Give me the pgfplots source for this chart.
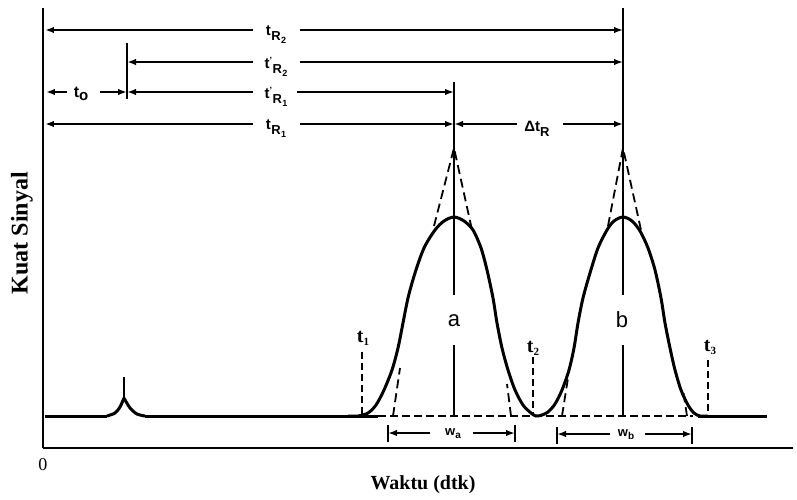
\documentclass[border=0pt]{standalone}
\usepackage{fontspec}
\setmainfont{Liberation Serif}
\setsansfont{Liberation Sans}
\usepackage{pgfplots}
\pgfplotsset{compat=1.18}
\usetikzlibrary{arrows.meta}

% label helpers: t with subscripts, set in bold sans as in the scan
\newcommand{\pr}{\raisebox{5pt}{\fontsize{9}{9}\selectfont '}}
\newcommand{\tR}[2]{{\sffamily\bfseries\fontsize{15}{15}\selectfont t#1\kern0.5pt\raisebox{-5pt}{\fontsize{13}{13}\selectfont R\kern0.3pt\raisebox{-3pt}{\fontsize{9}{9}\selectfont #2}}}}
\newcommand{\tn}[1]{{\rmfamily\bfseries\fontsize{20}{20}\selectfont t\raisebox{-3pt}{\fontsize{11}{11}\selectfont #1}}}
\newcommand{\w}[1]{{\sffamily\bfseries\fontsize{13}{13}\selectfont w\raisebox{-3pt}{\fontsize{10}{10}\selectfont #1}}}

\begin{document}
\begin{tikzpicture}
\begin{axis}[
  scale only axis, width=750pt, height=440pt,
  xmin=0, xmax=750, ymin=0, ymax=440,
  enlargelimits=false, clip=false,
  axis lines*=left, axis line style={line width=2.3pt},
  xtick={0}, ytick=\empty, major tick length=0pt,
  /pgf/number format/assume math mode=true,
  xticklabel style={font=\rmfamily\fontsize{18}{18}\selectfont, yshift=-7pt},
  xlabel={Waktu (dtk)}, ylabel={Kuat Sinyal},
  xlabel style={at={(axis description cs:0.5067,-0.0841)}, anchor=center,
    font=\rmfamily\bfseries\fontsize{20}{20}\selectfont},
  ylabel style={at={(axis description cs:-0.028,0.4886)}, anchor=center, rotate=0,
    font=\rmfamily\bfseries\fontsize{24}{24}\selectfont},
  curve/.style={black, line width=3pt, no markers, smooth, tension=0.5},
  thin line/.style={black, line width=1.8pt, no markers},
  arr/.style={black, line width=1.8pt, no markers, -{Latex[length=9pt,width=6.5pt]}},
  dash/.style={black, line width=1.8pt, no markers, dash pattern=on 7pt off 4pt},
  tang/.style={black, line width=1.8pt, no markers, dash pattern=on 9pt off 5pt},
]

% baseline and the small unretained peak
\addplot[curve, sharp plot] coordinates {(2,32) (64,32)};
\addplot[curve] coordinates {(64,32) (72,35) (77,41) (81,50)};
\addplot[curve] coordinates {(81,50) (87,40) (94,34) (102,32)};
\addplot[thin line] coordinates {(81,50) (81,71)};
\addplot[curve, sharp plot] coordinates {(102,32) (335,32)};
\addplot[dash, dash pattern=on 8pt off 4pt] coordinates {(335,32) (650,32)};
\addplot[curve, sharp plot] coordinates {(655,32) (724,32)};

% peaks a and b
\addplot[curve] coordinates {
  (305,32) (315,32) (325,35) (333,43) (341,58) (349,78) (355,100) (360,125)
  (365,150) (372,175) (381,200) (392,218) (401,227) (411,231) (421,227)
  (430,218) (438,200) (444,178) (450,150) (454,125) (459,100) (465,78)
  (472,58) (480,43) (488,35) (493,32) (499,33) (505,36) (512,44) (519,58)
  (526,78) (531,100) (535,125) (540,150) (547,175) (555,200) (564,218)
  (571,227) (580,231) (589,227) (597,217) (605,200) (612,178) (618,150)
  (622,125) (627,100) (632,78) (638,58) (645,43) (651,35) (657,32) (665,32)
};

% tangent lines (visible outside the curve only)
\addplot[tang] coordinates {(350,32) (357,80)};
\addplot[tang] coordinates {(468,32) (464,64)};
\addplot[tang] coordinates {(391,222) (411,300) (429,218)};
\addplot[tang] coordinates {(519,32) (525,70)};
\addplot[tang] coordinates {(644,32) (640,58)};
\addplot[tang] coordinates {(565,222) (580,300) (598,218)};

% peak centre lines
\addplot[thin line] coordinates {(411,366) (411,153)};
\addplot[thin line] coordinates {(411,103) (411,32)};
\addplot[thin line] coordinates {(580,440) (580,153)};
\addplot[thin line] coordinates {(580,103) (580,32)};
\node[font=\sffamily\fontsize{22}{22}\selectfont] at (axis cs:411,127) {a};
\node[font=\sffamily\fontsize{22}{22}\selectfont] at (axis cs:579,128) {b};

% t0 marker line
\addplot[thin line] coordinates {(84,405) (84,349)};

% retention time arrows
\addplot[arr] coordinates {(210,418) (2,418)};
\addplot[arr] coordinates {(257,418) (580,418)};
\node at (axis cs:233,413) {\tR{}{2}};

\addplot[arr] coordinates {(210,386) (84,386)};
\addplot[arr] coordinates {(257,386) (580,386)};
\node at (axis cs:233,381) {\tR{\pr}{2}};

\addplot[arr] coordinates {(210,356) (84,356)};
\addplot[arr] coordinates {(254,356) (411,356)};
\node at (axis cs:233,351) {\tR{\pr}{1}};

\addplot[arr] coordinates {(24,356) (3,356)};
\addplot[arr] coordinates {(57,356) (84,356)};
\node at (axis cs:38,354) {{\sffamily\bfseries\fontsize{16}{16}\selectfont t\raisebox{-3pt}{\fontsize{15}{15}\selectfont o}}};

\addplot[arr] coordinates {(210,324) (2,324)};
\addplot[arr] coordinates {(257,324) (411,324)};
\node at (axis cs:233,319) {\tR{}{1}};

\addplot[arr] coordinates {(474,324) (411,324)};
\addplot[arr] coordinates {(520,324) (580,324)};
\node at (axis cs:494,319) {{\sffamily\bfseries\fontsize{15}{15}\selectfont Δt\raisebox{-5pt}{\fontsize{13}{13}\selectfont R}}};

% t1, t2, t3
\addplot[dash] coordinates {(319,96) (319,32)};
\addplot[dash] coordinates {(490,91) (490,32)};
\addplot[dash] coordinates {(665,88) (665,32)};
\node at (axis cs:320,110) {\tn{1}};
\node at (axis cs:490,100) {\tn{2}};
\node at (axis cs:667,101) {\tn{3}};

% peak widths
\addplot[arr] coordinates {(387,15) (345,15)};
\addplot[arr] coordinates {(430,15) (472,15)};
\addplot[thin line] coordinates {(345,6) (345,23)};
\addplot[thin line] coordinates {(472,6) (472,23)};
\node at (axis cs:410,14) {\w{a}};
\addplot[arr] coordinates {(567,14) (514,14)};
\addplot[arr] coordinates {(602,14) (649,14)};
\addplot[thin line] coordinates {(514,4) (514,21)};
\addplot[thin line] coordinates {(649,4) (649,21)};
\node at (axis cs:583,13) {\w{b}};

\coordinate (bl) at (axis cs:-43,-51);
\coordinate (tr) at (axis cs:754,448);
\end{axis}
\path (bl) rectangle (tr);
\end{tikzpicture}
\end{document}
